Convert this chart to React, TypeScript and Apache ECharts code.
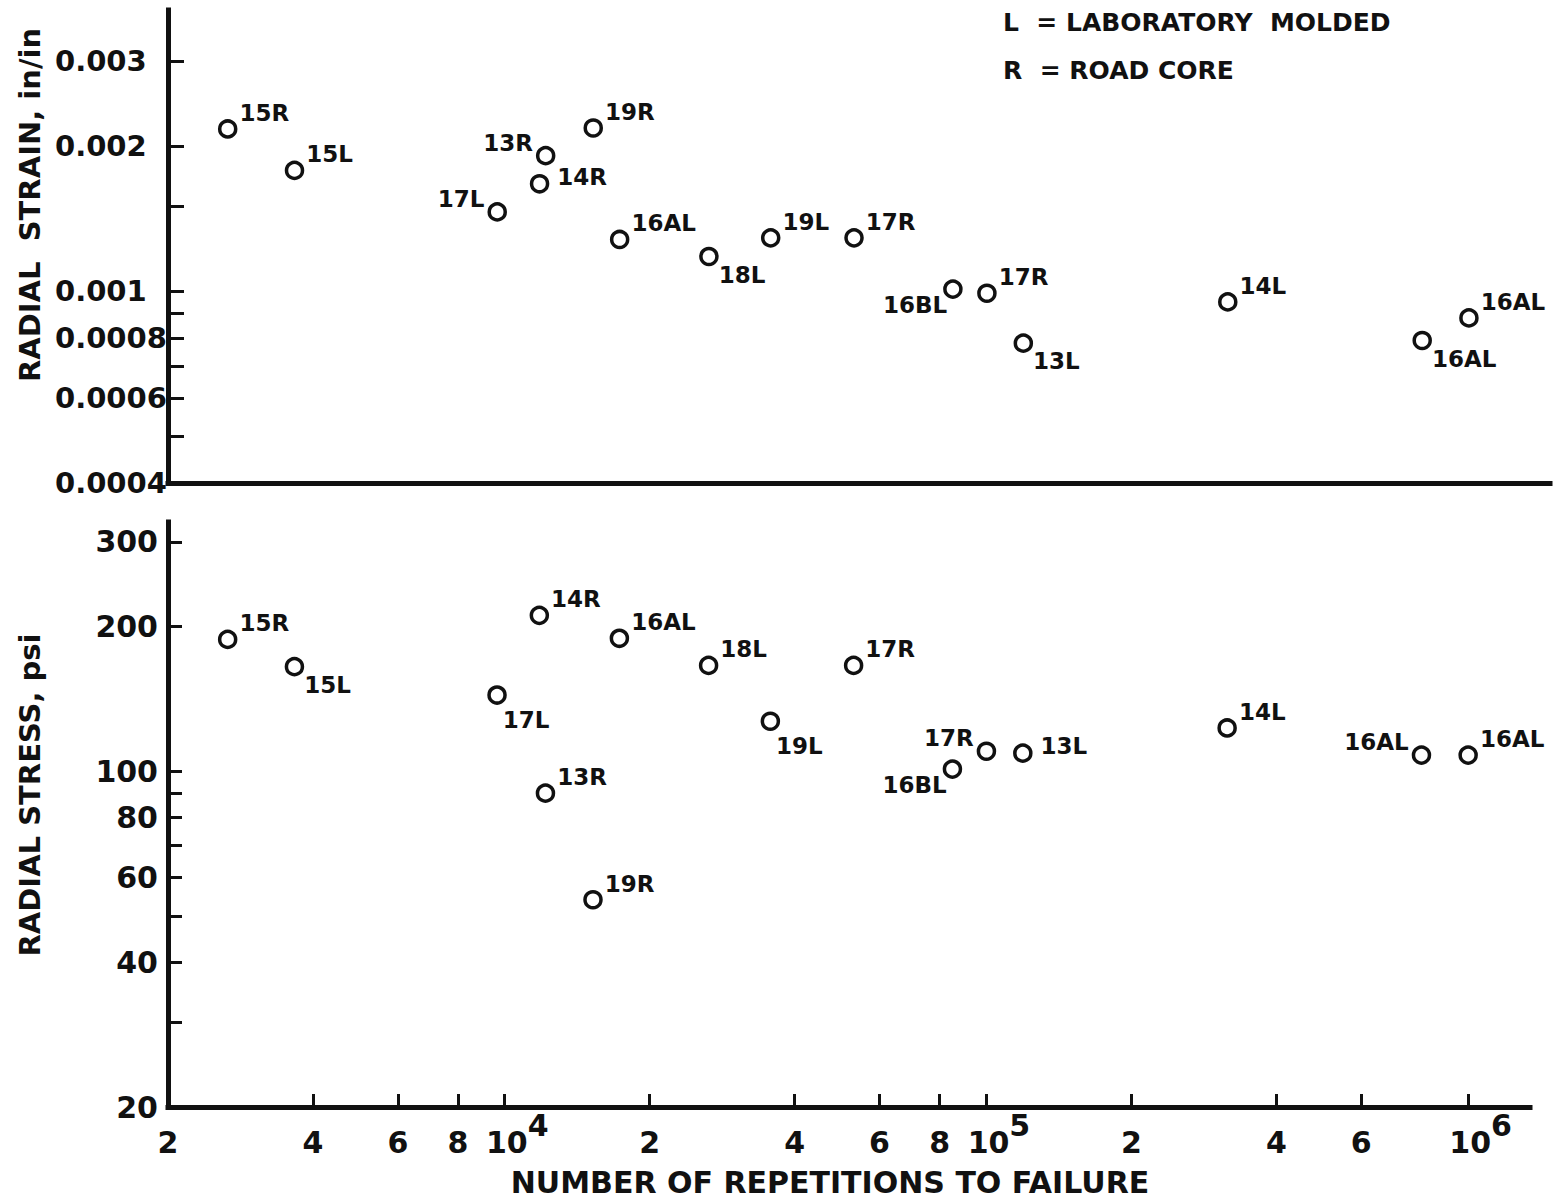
import React, { useEffect, useRef } from 'react';
import * as echarts from 'echarts';

// Specimen identifiers (L = laboratory molded, R = road core)
const specimens = ['15R', '15L', '17L', '13R', '14R', '19R', '16AL', '18L', '19L', '17R', '16BL', '17R', '13L', '14L', '16AL', '16AL'];
// Number of load repetitions to failure for each specimen
const repetitionsToFailure = [2660, 3660, 9640, 12150, 11800, 15250, 17300, 26500, 35600, 53000, 85000, 100000, 119000, 316000, 800000, 1000000];
// Radial strain, in/in
const radialStrain = [0.00217, 0.00178, 0.00146, 0.00191, 0.00167, 0.00218, 0.00128, 0.00118, 0.00129, 0.00129, 0.00101, 0.00099, 0.00078, 0.00095, 0.00079, 0.00088];
// Radial stress, psi
const radialStress = [188, 165, 144, 90, 211, 54, 189, 166, 127, 166, 101, 110, 109, 123, 108, 108];

// Axis tick marks and labelled values
const repetitionTicks = [2000, 4000, 6000, 8000, 1e4, 2e4, 4e4, 6e4, 8e4, 1e5, 2e5, 4e5, 6e5, 8e5, 1e6];
const repetitionLabels = [2000, 4000, 6000, 8000, 1e4, 2e4, 4e4, 6e4, 8e4, 1e5, 2e5, 4e5, 6e5, 8e5, 1e6];
const strainTicks = [0.0004, 0.0005, 0.0006, 0.0007, 0.0008, 0.0009, 0.001, 0.0015, 0.002, 0.003];
const strainLabels = [0.0004, 0.0006, 0.0008, 0.001, 0.002, 0.003];
const stressTicks = [20, 30, 40, 50, 60, 70, 80, 90, 100, 200, 300];
const stressLabels = [20, 40, 60, 80, 100, 200, 300];

// Where each specimen tag sits around its marker
const strainTagSide = ['ur', 'ur', 'ul', 'ul', 'r', 'ur', 'ur', 'lr', 'ur', 'ur', 'll', 'ur', 'lr', 'ur', 'lr', 'ur'];
const stressTagSide = ['ur', 'lr', 'b', 'ur', 'ur', 'ur', 'ur', 'ur', 'b', 'ur', 'll', 'ul', 'r', 'ur', 'ul', 'ur'];

const FONT = '"DejaVu Sans", "Liberation Sans", sans-serif';
const INK = '#111111';

const TAG_PLACEMENT: Record<string, any> = {
  ur: { position: 'right', distance: 2, offset: [0, -16] },
  r: { position: 'right', distance: 8, offset: [0, -7] },
  lr: { position: 'right', distance: 0, offset: [0, 18] },
  b: { position: 'right', distance: 0, offset: [-4, 25] },
  ul: { position: 'left', distance: 3, offset: [0, -13] },
  ll: { position: 'left', distance: 0, offset: [4, 16] },
};

function buildPoints(values: number[], sides: string[]) {
  return repetitionsToFailure.map((n, i) => ({
    name: specimens[i],
    value: [n, values[i]],
    label: { ...TAG_PLACEMENT[sides[i]] },
  }));
}

const axisLineStyle = { show: true, onZero: false, lineStyle: { color: INK, width: 5, cap: 'square' } };

function repetitionFormatter(v: number) {
  const e = Math.floor(Math.log10(v) + 1e-9);
  const m = Math.round(v / Math.pow(10, e));
  return m === 1 ? `{p|10}{e|${e}}` : `{t|${m}}`;
}

const tickText = { fontFamily: FONT, fontWeight: 'bold', color: INK };

export default function App() {
  const ref = useRef<HTMLDivElement>(null);

  useEffect(() => {
    document.body.style.margin = '0';
    document.body.style.background = '#fff';
    if (!ref.current) return;
    const chart = echarts.init(ref.current, undefined, { renderer: 'svg' });

    const scatterCommon = {
      type: 'scatter',
      symbol: 'circle',
      symbolSize: 16,
      itemStyle: { color: '#fff', borderColor: INK, borderWidth: 3.5, opacity: 1 },
      label: {
        show: true,
        formatter: '{b}',
        fontFamily: FONT,
        fontWeight: 'bold',
        fontSize: 23,
        color: INK,
        opacity: 1,
      },
      emphasis: { disabled: true },
    };

    chart.setOption({
      animation: false,
      backgroundColor: '#fff',
      grid: [
        { left: 168, top: 10, width: 1382, height: 473 },
        { left: 168, top: 522, width: 1362, height: 585 },
      ],
      xAxis: [
        {
          gridIndex: 0,
          type: 'log',
          logBase: 10,
          min: 2000,
          max: 1.473e6,
          axisLine: axisLineStyle,
          axisTick: { show: false },
          axisLabel: { show: false },
          splitLine: { show: false },
        },
        {
          gridIndex: 1,
          type: 'log',
          logBase: 10,
          min: 2000,
          max: 1.344e6,
          axisLine: axisLineStyle,
          axisTick: {
            show: true,
            inside: true,
            length: 13,
            interval: 0,
            customValues: repetitionTicks,
            lineStyle: { color: INK, width: 3 },
          },
          axisLabel: {
            show: true,
            interval: 0,
            showMinLabel: true,
            showMaxLabel: true,
            hideOverlap: false,
            customValues: repetitionLabels,
            margin: 3,
            formatter: repetitionFormatter,
            rich: {
              t: { ...tickText, fontSize: 30, lineHeight: 64 },
              p: { ...tickText, fontSize: 30, lineHeight: 64, padding: [0, 0, 0, 25] },
              e: { ...tickText, fontSize: 30, lineHeight: 30, verticalAlign: 'top' },
            },
          },
          splitLine: { show: false },
        },
      ],
      yAxis: [
        {
          gridIndex: 0,
          type: 'log',
          logBase: 10,
          min: 0.0004,
          max: 0.00383,
          axisLine: axisLineStyle,
          axisTick: {
            show: true,
            inside: true,
            length: 16,
            interval: 0,
            customValues: strainTicks,
            lineStyle: { color: INK, width: 3 },
          },
          axisLabel: {
            show: true,
            interval: 0,
            showMinLabel: true,
            showMaxLabel: true,
            hideOverlap: false,
            customValues: strainLabels,
            align: 'left',
            margin: 113,
            ...tickText,
            fontSize: 29,
            formatter: (v: number) => String(Number(v.toPrecision(3))),
          },
          splitLine: { show: false },
        },
        {
          gridIndex: 1,
          type: 'log',
          logBase: 10,
          min: 20,
          max: 330,
          axisLine: axisLineStyle,
          axisTick: {
            show: true,
            inside: true,
            length: 14,
            interval: 0,
            customValues: stressTicks,
            lineStyle: { color: INK, width: 3 },
          },
          axisLabel: {
            show: true,
            interval: 0,
            showMinLabel: true,
            showMaxLabel: true,
            hideOverlap: false,
            customValues: stressLabels,
            margin: 10,
            ...tickText,
            fontSize: 30,
            formatter: (v: number) => String(Math.round(v)),
          },
          splitLine: { show: false },
        },
      ],
      series: [
        { ...scatterCommon, name: 'Radial strain', xAxisIndex: 0, yAxisIndex: 0, data: buildPoints(radialStrain, strainTagSide) },
        { ...scatterCommon, name: 'Radial stress', xAxisIndex: 1, yAxisIndex: 1, data: buildPoints(radialStress, stressTagSide) },
      ],
      graphic: [
        {
          type: 'text',
          x: 1003,
          y: 22,
          style: { text: 'L  = LABORATORY  MOLDED', fontFamily: FONT, fontWeight: 'bold', fontSize: 25, fill: INK, align: 'left', verticalAlign: 'middle' },
        },
        {
          type: 'text',
          x: 1003,
          y: 70,
          style: { text: 'R  = ROAD CORE', fontFamily: FONT, fontWeight: 'bold', fontSize: 25, fill: INK, align: 'left', verticalAlign: 'middle' },
        },
        {
          type: 'text',
          x: 30,
          y: 205,
          rotation: Math.PI / 2,
          style: { text: 'RADIAL  STRAIN, in/in', fontFamily: FONT, fontWeight: 'bold', fontSize: 29, fill: INK, align: 'center', verticalAlign: 'middle' },
        },
        {
          type: 'text',
          x: 30,
          y: 795,
          rotation: Math.PI / 2,
          style: { text: 'RADIAL STRESS, psi', fontFamily: FONT, fontWeight: 'bold', fontSize: 29, fill: INK, align: 'center', verticalAlign: 'middle' },
        },
        {
          type: 'text',
          x: 830,
          y: 1182,
          style: { text: 'NUMBER OF REPETITIONS TO FAILURE', fontFamily: FONT, fontWeight: 'bold', fontSize: 30, fill: INK, align: 'center', verticalAlign: 'middle' },
        },
      ],
    });

    return () => chart.dispose();
  }, []);

  return <div ref={ref} style={{ width: 1553, height: 1204, background: '#fff' }} />;
}
